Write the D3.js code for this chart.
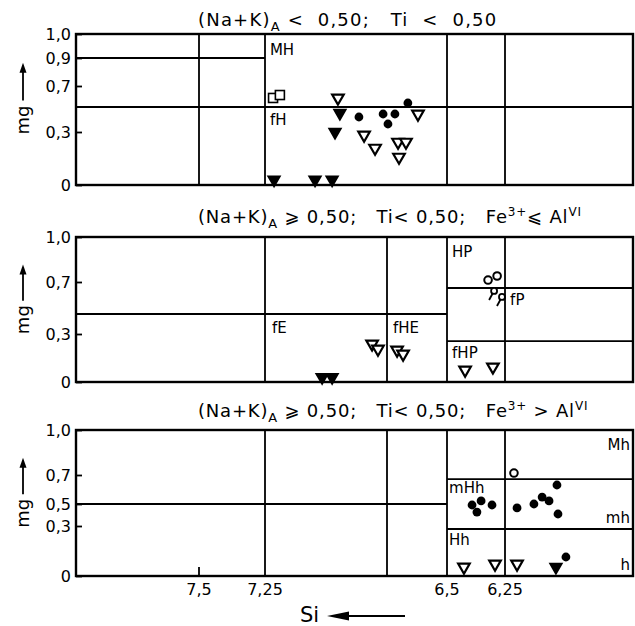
<!DOCTYPE html>
<html lang="en">
<head>
<meta charset="UTF-8">
<title>mg - Si</title>
<script src="https://cdn.jsdelivr.net/npm/d3@7"></script>
<style>
  body { margin: 0; background: #fff; }
  svg { font-family: "DejaVu Sans", sans-serif; }
  .title { white-space: pre; }
</style>
</head>
<body>
<svg id="canvas"></svg>
<script>
// x axis (Si, decreasing to the right)
let siTicks = [7.5, 7.25, 6.5, 6.25]
let siTickLabels = ["7,5", "7,25", "6,5", "6,25"]

// y ticks for each panel
let p1YTicks = [0, 0.3, 0.7, 0.9, 1.0]
let p2YTicks = [0, 0.3, 0.7, 1.0]
let p3YTicks = [0, 0.3, 0.5, 0.7, 1.0]

// field boundaries: verticals (Si) and horizontals [mg, SiFrom, SiTo]
let p1Verticals = [7.5, 7.25, 6.5, 6.25]
let p1Horizontals = [[0.9, 8, 7.25], [0.5, 8, 5.75]]
let p2Verticals = [7.25, 6.75, 6.5, 6.25]
let p2Horizontals = [[0.454, 8, 6.5], [0.654, 6.5, 5.75], [0.256, 6.5, 5.75]]
let p3Verticals = [7.25, 6.75, 6.5, 6.25]
let p3Horizontals = [[0.5, 8, 6.5], [0.672, 6.5, 5.75], [0.282, 6.5, 5.75]]

// field names [text, Si, mg, anchor]
let p1Names = [["MH", 7.23, 0.913, "start"], ["fH", 7.23, 0.356, "start"]]
let p2Names = [["fE", 7.221, 0.306, "start"], ["fHE", 6.725, 0.306, "start"],
               ["HP", 6.478, 0.867, "start"], ["fP", 6.23, 0.523, "start"],
               ["fHP", 6.478, 0.15, "start"]]
let p3Names = [["Mh", 5.762, 0.867, "end"], ["mHh", 6.491, 0.576, "start"],
               ["mh", 5.762, 0.327, "end"], ["Hh", 6.491, 0.186, "start"],
               ["h", 5.762, 0.036, "end"]]

// points [Si, mg]
let p1Squares = [[7.217, 0.586], [7.189, 0.614]]
let p1OpenTri = [[6.951, 0.586], [6.621, 0.444], [6.844, 0.283], [6.799, 0.209],
                 [6.704, 0.243], [6.671, 0.243], [6.700, 0.158]]
let p1FilledTri = [[6.943, 0.452], [6.963, 0.30], [7.213, 0.03], [7.045, 0.03], [6.975, 0.03]]
let p1Dots = [[6.865, 0.42], [6.766, 0.444], [6.717, 0.444], [6.746, 0.364], [6.663, 0.538]]

let p2OpenTri = [[6.811, 0.238], [6.787, 0.206], [6.708, 0.2], [6.683, 0.175],
                 [6.422, 0.075], [6.302, 0.094]]
let p2FilledTri = [[7.016, 0.03], [6.975, 0.03]]
let p2Circles = [[6.323, 0.713], [6.284, 0.74]]
let p2Tailed = [[6.297, 0.631], [6.263, 0.585]]

let p3Circles = [[6.215, 0.713]]
let p3Dots = [[6.392, 0.491], [6.353, 0.521], [6.371, 0.427], [6.306, 0.491],
              [6.203, 0.464], [6.137, 0.5], [6.105, 0.548], [6.078, 0.521],
              [6.047, 0.631], [6.043, 0.409], [6.012, 0.114]]
let p3OpenTri = [[6.427, 0.054], [6.293, 0.072], [6.203, 0.072]]
let p3FilledTri = [[6.051, 0.054]]

let width = 635
let height = 626

let svg = d3.select("#canvas").attr("width", width).attr("height", height)

let xScale = d3.scaleLinear()
  .domain([8, 7.5, 7.25, 6.75, 6.5, 6.25, 5.75])
  .range([76, 199, 265, 387, 447, 505, 633])

let fmt = d => d === 0 ? "0" : d3.format(".1f")(d).replace(".", ",")

// title pieces: [text, kind] kind 0 normal, 1 subscript, 2 superscript
let panels = [
  { title: [["(Na+K)", 0], ["A", 1], [" <  0,50;   Ti  <  0,50", 0]],
    titleY: 26, spacing: 1.2,
    yScale: d3.scaleLinear().domain([0, 0.3, 0.5, 0.7, 0.9, 1]).range([185, 132, 107, 86, 58, 34]),
    ticks: p1YTicks, verticals: p1Verticals, horizontals: p1Horizontals, names: p1Names,
    squares: p1Squares, openTri: p1OpenTri, filledTri: p1FilledTri, dots: p1Dots,
    circles: [], tailed: [] },
  { title: [["(Na+K)", 0], ["A", 1], [" \u2A7E 0,50;   Ti< 0,50;   Fe", 0], ["3+", 2], ["\u2A7D Al", 0], ["VI", 2]],
    titleY: 223, spacing: 0.8,
    yScale: d3.scaleLinear().domain([0, 0.3, 0.7, 1]).range([382, 334, 282, 237]),
    ticks: p2YTicks, verticals: p2Verticals, horizontals: p2Horizontals, names: p2Names,
    squares: [], openTri: p2OpenTri, filledTri: p2FilledTri, dots: [],
    circles: p2Circles, tailed: p2Tailed },
  { title: [["(Na+K)", 0], ["A", 1], [" \u2A7E 0,50;   Ti< 0,50;   Fe", 0], ["3+", 2], [" > Al", 0], ["VI", 2]],
    titleY: 417, spacing: 0.8,
    yScale: d3.scaleLinear().domain([0, 0.3, 0.5, 0.7, 1]).range([576, 526, 504, 475, 430]),
    ticks: p3YTicks, verticals: p3Verticals, horizontals: p3Horizontals, names: p3Names,
    squares: [], openTri: p3OpenTri, filledTri: p3FilledTri, dots: p3Dots,
    circles: p3Circles, tailed: [] }
]

let triDown = d3.symbol().type(d3.symbolTriangle).size(58)

let drawPanel = (p, idx) => {
  let y = p.yScale
  let g = svg.append("g")
  let x0 = xScale(8), x1 = xScale(5.75), yTop = y(1), yBot = y(0)

  // title
  let t = g.append("text").attr("class", "title")
    .attr("x", xScale(7.5) - 1).attr("y", p.titleY)
    .style("font-size", "18px").style("letter-spacing", p.spacing + "px")
  let shift = 0
  p.title.forEach(([s, kind]) => {
    let ts = t.append("tspan").text(s)
    let target = kind === 1 ? 5 : kind === 2 ? -7 : 0
    if (target !== shift) ts.attr("dy", target - shift)
    shift = target
    if (kind === 1) ts.style("font-size", "13px")
    if (kind === 2) ts.style("font-size", "12px")
  })

  // field boundaries
  g.selectAll(".vl").data(p.verticals).enter().append("line")
    .attr("x1", d => xScale(d)).attr("x2", d => xScale(d))
    .attr("y1", yTop).attr("y2", yBot)
    .attr("stroke", "#000").attr("stroke-width", 1.8)
  g.selectAll(".hl").data(p.horizontals).enter().append("line")
    .attr("x1", d => xScale(d[1])).attr("x2", d => xScale(d[2]))
    .attr("y1", d => y(d[0])).attr("y2", d => y(d[0]))
    .attr("stroke", "#000").attr("stroke-width", 1.8)

  // frame
  g.append("rect").attr("x", x0).attr("y", yTop)
    .attr("width", x1 - x0).attr("height", yBot - yTop)
    .attr("fill", "none").attr("stroke", "#000").attr("stroke-width", 2.4)

  // y axis
  let yAxis = d3.axisLeft(y).tickValues(p.ticks).tickFormat(fmt)
    .tickSizeInner(-6).tickSizeOuter(0).tickPadding(5)
  let ya = g.append("g").attr("transform", "translate(" + x0 + ",0)").call(yAxis)
  ya.select(".domain").remove()
  ya.selectAll("line").attr("stroke-width", 1.8)
  ya.selectAll("text").style("font-size", "16px").attr("font-family", "DejaVu Sans")

  // mg label with arrow
  let h = yBot - yTop
  let cx = 23
  g.append("text").attr("transform", "translate(" + (cx + 6) + "," + (yTop + 0.57 * h) + ") rotate(-90)")
    .attr("text-anchor", "middle").style("font-size", "18px").text("mg")
  g.append("line").attr("x1", cx).attr("x2", cx)
    .attr("y1", yTop + 0.44 * h).attr("y2", yTop + 0.24 * h)
    .attr("stroke", "#000").attr("stroke-width", 1.8)
  g.append("path")
    .attr("d", "M" + cx + "," + (yTop + 0.19 * h) + "l-3.5,10h7z")
    .attr("fill", "#000")

  // field names
  g.selectAll(".nm").data(p.names).enter().append("text")
    .attr("x", d => xScale(d[1])).attr("y", d => y(d[2]))
    .attr("text-anchor", d => d[3])
    .style("font-size", "15px").text(d => d[0])

  // marks
  g.selectAll(".sq").data(p.squares).enter().append("rect")
    .attr("x", d => xScale(d[0]) - 4.5).attr("y", d => y(d[1]) - 4.5)
    .attr("width", 9).attr("height", 9)
    .attr("fill", "#fff").attr("stroke", "#000").attr("stroke-width", 1.6)
  g.selectAll(".ot").data(p.openTri).enter().append("path")
    .attr("d", triDown)
    .attr("transform", d => "translate(" + xScale(d[0]) + "," + y(d[1]) + ") rotate(180)")
    .attr("fill", "#fff").attr("stroke", "#000").attr("stroke-width", 2.2)
  g.selectAll(".ft").data(p.filledTri).enter().append("path")
    .attr("d", triDown)
    .attr("transform", d => "translate(" + xScale(d[0]) + "," + y(d[1]) + ") rotate(180)")
    .attr("fill", "#000").attr("stroke", "#000").attr("stroke-width", 1.8)
  g.selectAll(".dt").data(p.dots).enter().append("circle")
    .attr("cx", d => xScale(d[0])).attr("cy", d => y(d[1])).attr("r", 4.4)
    .attr("fill", "#000")
  g.selectAll(".oc").data(p.circles).enter().append("circle")
    .attr("cx", d => xScale(d[0])).attr("cy", d => y(d[1])).attr("r", 3.8)
    .attr("fill", "#fff").attr("stroke", "#000").attr("stroke-width", 2)
  let tl = g.selectAll(".tc").data(p.tailed).enter().append("g")
    .attr("transform", d => "translate(" + xScale(d[0]) + "," + y(d[1]) + ")")
  tl.append("line").attr("x1", -1.5).attr("y1", 2.5).attr("x2", -5).attr("y2", 9)
    .attr("stroke", "#000").attr("stroke-width", 1.8)
  tl.append("circle").attr("r", 3).attr("fill", "#fff")
    .attr("stroke", "#000").attr("stroke-width", 1.8)

  // x axis labels on the last panel
  if (idx === panels.length - 1) {
    g.append("line").attr("x1", xScale(7.5)).attr("x2", xScale(7.5))
      .attr("y1", yBot).attr("y2", yBot - 9)
      .attr("stroke", "#000").attr("stroke-width", 1.8)
    g.selectAll(".xl").data(siTicks).enter().append("text")
      .attr("x", d => xScale(d)).attr("y", yBot + 19)
      .attr("text-anchor", "middle").style("font-size", "16px")
      .text((d, i) => siTickLabels[i])
    g.append("text").attr("x", 300).attr("y", 622).style("font-size", "21px").text("Si")
    g.append("line").attr("x1", 340).attr("x2", 405).attr("y1", 616).attr("y2", 616)
      .attr("stroke", "#000").attr("stroke-width", 1.8)
    g.append("path").attr("d", "M327,616l22,-4.5v9z").attr("fill", "#000")
  }
}

panels.forEach(drawPanel)
</script>
</body>
</html>
